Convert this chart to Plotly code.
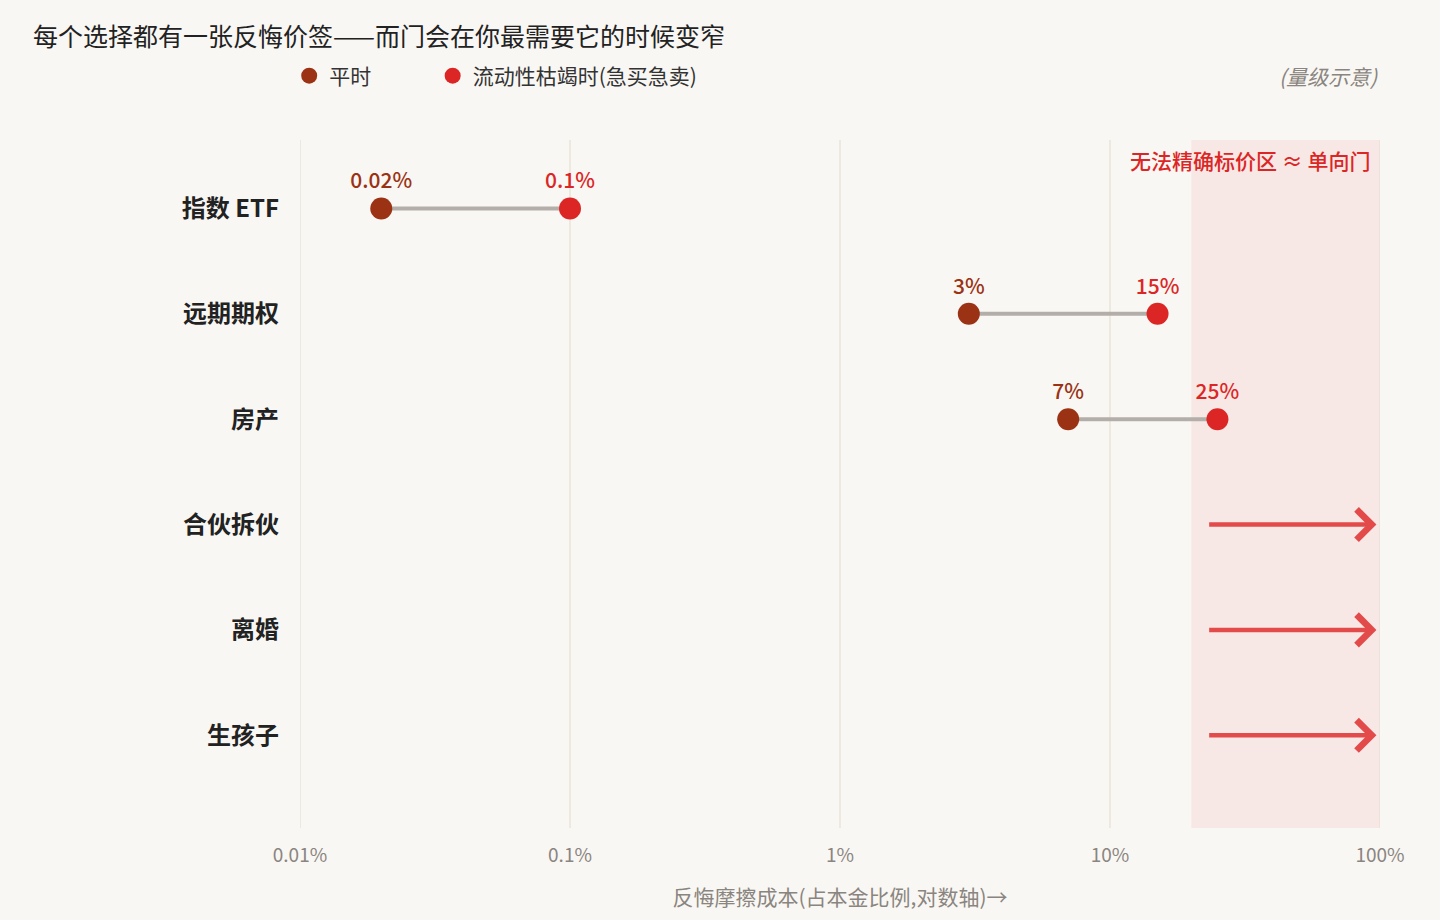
import plotly.graph_objects as go
import math

# 数据（单位：%）
categories = ["指数 ETF", "远期期权", "房产", "合伙拆伙", "离婚", "生孩子"]
normal_cost = [0.02, 3, 7, None, None, None]
crisis_cost = [0.1, 15, 25, None, None, None]
normal_labels = ["0.02%", "3%", "7%", "", "", ""]
crisis_labels = ["0.1%", "15%", "25%", "", "", ""]

# 单向门：箭头从 ~23% 指向 100%
oneway_rows = ["合伙拆伙", "离婚", "生孩子"]
arrow_start = 23
arrow_end = 97

zone_start = 20
zone_end = 100

tick_vals = [0.01, 0.1, 1, 10, 100]
tick_text = ["0.01%", "0.1%", "1%", "10%", "100%"]

BG = "#f9f7f3"
GRID = "#e6dfd2"
C_NORMAL = "#9b3214"
C_CRISIS = "#dc2626"
FONT = "Noto Sans CJK SC"

fig = go.Figure()

# 连线
lx, ly = [], []
for c, a, b in zip(categories, normal_cost, crisis_cost):
    if a is None:
        continue
    lx += [a, b, None]
    ly += [c, c, None]
fig.add_trace(go.Scatter(
    x=lx, y=ly, mode="lines",
    line=dict(color="#b3aea9", width=4),
    showlegend=False, hoverinfo="skip",
))

fig.add_trace(go.Scatter(
    x=normal_cost, y=categories, mode="markers+text",
    name="平时" + "\u00a0" * 12,
    marker=dict(color=C_NORMAL, size=22),
    text=normal_labels, textposition="top center",
    textfont=dict(color=C_NORMAL, size=21, family=FONT, weight=500),
))
fig.add_trace(go.Scatter(
    x=crisis_cost, y=categories, mode="markers+text",
    name="流动性枯竭时(急买急卖)",
    marker=dict(color=C_CRISIS, size=22),
    text=crisis_labels, textposition="top center",
    textfont=dict(color=C_CRISIS, size=21, family=FONT, weight=500),
))

# 无法精确标价区
fig.add_shape(
    type="rect", xref="x", yref="paper",
    x0=zone_start, x1=zone_end, y0=0, y1=1,
    fillcolor="#f7e4e1", opacity=0.8, line=dict(width=0), layer="below",
)

# 网格竖线（含两端）
for v in tick_vals:
    fig.add_shape(
        type="line", xref="x", yref="paper",
        x0=v, x1=v, y0=0, y1=1,
        line=dict(color=GRID, width=1.2), layer="below",
    )

for r in oneway_rows:
    fig.add_annotation(
        x=math.log10(arrow_end), y=r, xref="x", yref="y",
        ax=math.log10(arrow_start), ay=r, axref="x", ayref="y",
        text="", showarrow=True,
        arrowhead=4, arrowsize=1.3, arrowwidth=4.5, arrowcolor="#e34b4b",
    )

fig.add_annotation(
    x=0.9926, y=0.971, xref="paper", yref="paper",
    text="无法精确标价区 ≈ 单向门", showarrow=False,
    xanchor="right", yanchor="middle",
    font=dict(color=C_CRISIS, size=21, family=FONT, weight=500),
)

fig.add_annotation(
    x=1.0, y=1.093, xref="paper", yref="paper",
    text="<i>(量级示意)</i>", showarrow=False,
    xanchor="right", yanchor="middle",
    font=dict(color="#8a8580", size=21, family=FONT),
)

fig.update_layout(
    width=1440, height=920,
    paper_bgcolor=BG, plot_bgcolor=BG,
    margin=dict(l=300, r=60, t=140, b=92),
    font=dict(family=FONT, color="#222"),
    title=dict(
        text="每个选择都有一张反悔价签——而门会在你最需要它的时候变窄",
        x=33 / 1440, xref="container", xanchor="left",
        y=1 - 37 / 920, yref="container", yanchor="middle",
        font=dict(size=25, family=FONT, color="#222"),
    ),
    legend=dict(
        orientation="h", x=-0.01, y=1.093, xanchor="left", yanchor="middle",
        font=dict(size=21, family=FONT, color="#333"),
        bgcolor="rgba(0,0,0,0)",
    ),
)

fig.update_xaxes(
    type="log", range=[-2, 2],
    tickvals=tick_vals, ticktext=tick_text,
    showgrid=False, zeroline=False, showline=False, ticks="",
    tickfont=dict(size=19, color="#8a8580"),
    ticklabelstandoff=14,
    title=dict(text="反悔摩擦成本(占本金比例,对数轴)→", font=dict(size=21, color="#8a8580"), standoff=24),
)
fig.update_yaxes(
    type="category", categoryorder="array", categoryarray=categories,
    range=[5.88, -0.65],
    showgrid=False, zeroline=False, showline=False, ticks="",
    tickfont=dict(size=24, color="#222", weight="bold"),
    ticklabelstandoff=20,
)

fig.write_html("out.html", config={"displayModeBar": False},
               post_script="document.body.style.margin='0';")
